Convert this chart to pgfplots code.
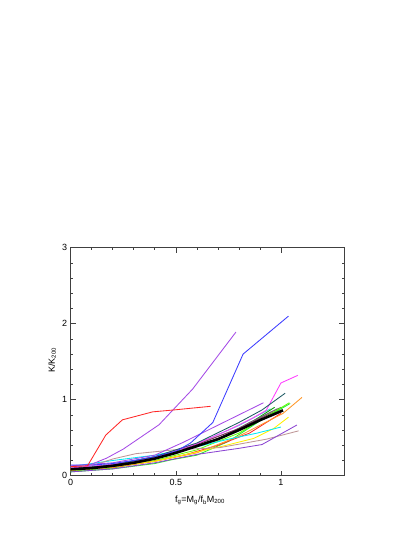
\documentclass[border=0pt]{standalone}
\usepackage{fontspec}
\setmainfont{Liberation Sans}
\usepackage{pgfplots}
\pgfplotsset{compat=1.18}

\definecolor{gred}{RGB}{255,40,40}
\definecolor{ggreen}{RGB}{40,235,40}
\definecolor{gblue}{RGB}{60,60,255}
\definecolor{gyellow}{RGB}{255,240,0}
\definecolor{gbrown}{RGB}{190,150,150}
\definecolor{ggrey}{RGB}{170,170,170}
\definecolor{gviolet}{RGB}{165,75,230}
\definecolor{gcyan}{RGB}{0,235,245}
\definecolor{gmagenta}{RGB}{255,60,255}
\definecolor{gorange}{RGB}{255,150,40}
\definecolor{gindigo}{RGB}{140,70,210}
\definecolor{gmaroon}{RGB}{130,40,90}
\definecolor{gturq}{RGB}{64,224,208}
\definecolor{ggreenf}{RGB}{0,150,0}
\definecolor{gteal}{RGB}{30,90,100}

\begin{document}
\begin{tikzpicture}
\useasboundingbox (0,0) rectangle (415pt,537pt);
\begin{axis}[
  at={(70.7pt,61.3pt)}, anchor=south west,
  width=273.3pt, height=228pt, scale only axis,
  xmin=0, xmax=1.3, ymin=0, ymax=3,
  xtick={0,0.5,1}, ytick={0,1,2,3},
  minor x tick num=4, minor y tick num=4,
  tick align=inside,
  major tick length=5pt, minor tick length=2.5pt,
  axis line style={black!75, line width=0.8pt},
  every tick/.style={black!75, line width=0.6pt},
  font=\fontsize{9}{10}\selectfont,
  /pgf/number format/assume math mode=true,
  xlabel={f\textsubscript{g}=M\textsubscript{g}/f\textsubscript{b}M\textsubscript{200}},
  ylabel={K/K\textsubscript{200}},
  xlabel style={at={(axis description cs:0.473,0)}, anchor=center, yshift=-25pt},
  ylabel style={at={(axis description cs:-0.068,0.507)}, anchor=center},
  every axis plot/.append style={line width=0.85pt, no markers},
]
% bundle lines
\addplot[gturq] coordinates {(0,0.10) (0.2,0.15) (0.4,0.25) (0.6,0.42) (0.8,0.66) (0.95,0.88)};
\addplot[ggreenf] coordinates {(0,0.07) (0.2,0.12) (0.4,0.22) (0.6,0.38) (0.8,0.60) (0.97,0.90)};
\addplot[ggrey] coordinates {(0,0.10) (0.2,0.14) (0.4,0.25) (0.6,0.42) (0.8,0.62) (0.98,0.88)};
\addplot[black!60] coordinates {(0,0.08) (0.2,0.12) (0.4,0.22) (0.55,0.35) (0.7,0.48) (0.85,0.70) (1.0,0.90)};
\addplot[gmaroon] coordinates {(0,0.09) (0.2,0.13) (0.4,0.24) (0.6,0.41) (0.8,0.62) (0.99,0.87)};
\addplot[green!50!lime] coordinates {(0,0.06) (0.2,0.10) (0.4,0.20) (0.6,0.34) (0.8,0.56) (1.04,0.96)};
\addplot[ggreen] coordinates {(0,0.05) (0.2,0.09) (0.4,0.16) (0.48,0.21) (0.6,0.27) (0.75,0.45) (0.9,0.72) (1.044,0.95)};
\addplot[gred] coordinates {(0,0.08) (0.2,0.11) (0.4,0.19) (0.55,0.28) (0.7,0.40) (0.85,0.56) (1.0,0.82)};
\addplot[gorange] coordinates {(0,0.07) (0.2,0.11) (0.4,0.19) (0.6,0.30) (0.8,0.52) (1.01,0.82) (1.1,1.03)};
\addplot[gyellow] coordinates {(0,0.09) (0.2,0.12) (0.4,0.19) (0.55,0.28) (0.71,0.38) (0.87,0.49) (0.965,0.62) (1.036,0.77)};
\addplot[gcyan] coordinates {(0,0.12) (0.2,0.20) (0.4,0.27) (0.6,0.38) (0.75,0.48) (0.886,0.56) (1.0,0.64)};
\addplot[gbrown] coordinates {(0,0.10) (0.1,0.13) (0.2,0.22) (0.31,0.29) (0.49,0.34) (0.71,0.37) (0.93,0.48) (1.084,0.59)};
\addplot[gindigo] coordinates {(0,0.05) (0.2,0.09) (0.4,0.17) (0.6,0.28) (0.8,0.36) (0.91,0.41) (1.076,0.667)};
\addplot[gviolet] coordinates {(0,0.13) (0.2,0.17) (0.4,0.27) (0.536,0.44) (0.917,0.96)};
\addplot[gmagenta] coordinates {(0,0.10) (0.2,0.15) (0.4,0.24) (0.6,0.42) (0.75,0.60) (0.86,0.75) (0.93,0.86) (1.0,1.22) (1.08,1.32)};
\addplot[gteal] coordinates {(0,0.09) (0.2,0.14) (0.4,0.25) (0.6,0.43) (0.8,0.70) (0.91,0.865) (1.02,1.085)};
% outliers
\addplot[gblue] coordinates {(0,0.14) (0.1,0.14) (0.2,0.16) (0.3,0.20) (0.4,0.25) (0.5,0.32) (0.57,0.43) (0.676,0.70) (0.82,1.60) (1.036,2.10)};
\addplot[gviolet] coordinates {(0,0.12) (0.08,0.13) (0.17,0.23) (0.25,0.35) (0.42,0.67) (0.58,1.14) (0.786,1.89)};
\addplot[gred] coordinates {(0,0.12) (0.08,0.13) (0.167,0.535) (0.246,0.735) (0.39,0.84) (0.49,0.865) (0.665,0.913)};
% mean
\addplot[black, line width=2.6pt] coordinates {(0,0.085) (0.1,0.10) (0.2,0.13) (0.3,0.17) (0.4,0.225) (0.5,0.30) (0.6,0.39) (0.7,0.48) (0.8,0.60) (0.9,0.73) (1.01,0.86)};
\end{axis}
\end{tikzpicture}
\end{document}
